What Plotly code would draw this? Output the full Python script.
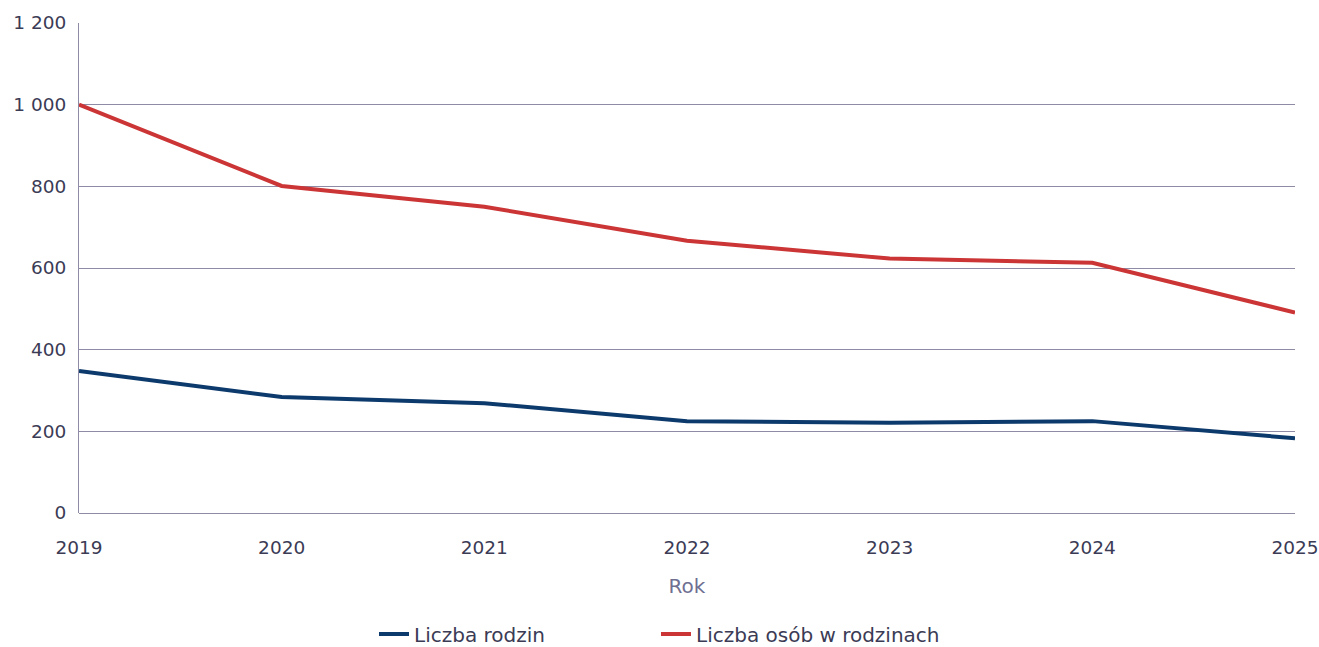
import plotly.graph_objects as go

years = [2019, 2020, 2021, 2022, 2023, 2024, 2025]
rodziny = [348, 284, 269, 225, 221, 225, 183]
osoby = [1000, 801, 750, 667, 623, 613, 491]
series_names = ["Liczba rodzin", "Liczba osób w rodzinach"]
y_ticks = [0, 200, 400, 600, 800, 1000, 1200]
y_ticktext = ["0", "200", "400", "600", "800", "1 000", "1 200"]

font_family = "DejaVu Sans, Verdana, sans-serif"
text_color = "#3b3b55"
grid_color = "#8e8ba6"

fig = go.Figure()
fig.add_trace(go.Scatter(x=years, y=rodziny, mode="lines", name=series_names[0],
                         line=dict(color="#0d3a6c", width=4), legend="legend"))
fig.add_trace(go.Scatter(x=years, y=osoby, mode="lines", name=series_names[1],
                         line=dict(color="#cc3535", width=4), legend="legend2"))

legend_common = dict(orientation="h", xanchor="left", y=-0.247, yanchor="middle",
                     font=dict(size=20, color=text_color), itemwidth=30,
                     bgcolor="rgba(0,0,0,0)")

fig.update_layout(
    width=1319, height=647,
    margin=dict(l=79, r=24, t=23, b=134, autoexpand=False),
    paper_bgcolor="white", plot_bgcolor="white",
    font=dict(family=font_family, size=18.5, color=text_color),
    showlegend=True,
    legend=dict(x=0.2426, **legend_common),
    legend2=dict(x=0.4745, **legend_common),
    xaxis=dict(range=[2019, 2025], tickvals=years, ticktext=[str(y) for y in years],
               showgrid=False, zeroline=False, showline=False, automargin=False,
               ticks="outside", ticklen=18, tickcolor="rgba(0,0,0,0)",
               ticklabeloverflow="allow",
               title=dict(text="Rok", font=dict(size=20, color="#6f6f92"), standoff=21),
               tickfont=dict(size=18.5, color=text_color)),
    yaxis=dict(range=[0, 1200], tickvals=y_ticks, ticktext=y_ticktext,
               showgrid=True, gridcolor=grid_color, gridwidth=1, automargin=False,
               zeroline=True, zerolinecolor=grid_color, zerolinewidth=1,
               showline=True, linecolor=grid_color, linewidth=1,
               ticks="outside", ticklen=8, tickcolor="rgba(0,0,0,0)",
               tickfont=dict(size=18.5, color=text_color)),
)

fig.write_html("out.html", config={"displayModeBar": False},
               post_script="document.body.style.margin='0';")
